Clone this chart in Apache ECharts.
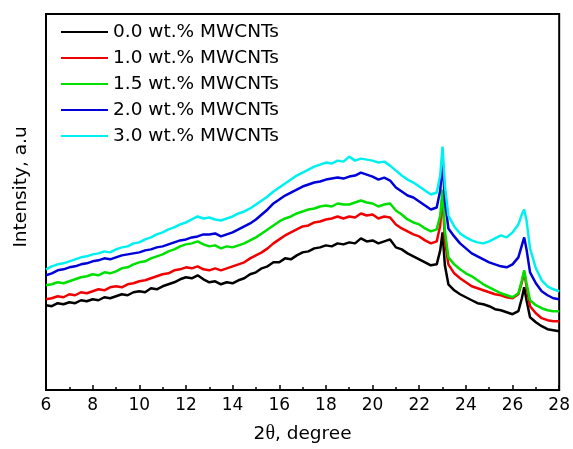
<!DOCTYPE html>
<html>
<head>
<meta charset="utf-8">
<style>
  html, body { margin: 0; padding: 0; background: #fff; }
  #chart { width: 573px; height: 449px; }
</style>
<script src="https://cdn.jsdelivr.net/npm/echarts@6/dist/echarts.min.js"></script>
</head>
<body>
<div id="chart"></div>
<script>
// XRD patterns of the composites, 2θ from 6° to 28°
const twoTheta = [
  6.00, 6.25, 6.50, 6.75, 7.00, 7.25, 7.50, 7.75, 8.00, 8.25, 8.50, 8.75,
  9.00, 9.25, 9.50, 9.75, 10.00, 10.25, 10.50, 10.75, 11.00, 11.25, 11.50, 11.75,
  12.00, 12.25, 12.50, 12.75, 13.00, 13.25, 13.50, 13.75, 14.00, 14.25, 14.50, 14.75,
  15.00, 15.25, 15.50, 15.75, 16.00, 16.25, 16.50, 16.75, 17.00, 17.25, 17.50, 17.75,
  18.00, 18.25, 18.50, 18.75, 19.00, 19.25, 19.50, 19.75, 20.00, 20.25, 20.50, 20.75,
  21.00, 21.25, 21.50, 21.75, 22.00, 22.25, 22.50, 22.75, 22.90, 23.00, 23.10, 23.25,
  23.50, 23.75, 24.00, 24.25, 24.50, 24.75, 25.00, 25.25, 25.50, 25.75, 26.00, 26.25,
  26.40, 26.50, 26.60, 26.75, 27.00, 27.25, 27.50, 27.75, 28.00
];

const mwcnt00 = [
  85, 84, 87, 86, 88, 87, 90, 89, 91, 90, 93, 92,
  94, 96, 95, 98, 99, 98, 102, 101, 104, 106, 108, 111,
  113, 112, 115, 111, 108, 109, 106, 108, 107, 110, 112, 116,
  118, 122, 124, 128, 128, 132, 131, 135, 138, 139, 142, 143,
  145, 144, 147, 146, 148, 147, 152, 149, 150, 147, 149, 151,
  143, 141, 137, 134, 131, 128, 125, 126, 140, 158, 125, 106,
  100, 96, 93, 90, 87, 86, 84, 81, 80, 78, 76, 79,
  92, 103, 90, 73, 68, 64, 61, 60, 59
];

const mwcnt10 = [
  91, 92, 94, 93, 96, 95, 98, 97, 99, 101, 100, 103,
  104, 103, 106, 107, 109, 110, 112, 114, 116, 117, 120, 121,
  123, 122, 124, 121, 120, 122, 120, 122, 124, 126, 128, 132,
  135, 138, 142, 147, 151, 155, 158, 161, 164, 165, 168, 169,
  171, 172, 174, 172, 174, 173, 177, 175, 176, 172, 174, 173,
  166, 162, 159, 156, 154, 150, 147, 149, 165, 196, 150, 126,
  117, 112, 108, 104, 102, 100, 98, 96, 95, 93, 92, 96,
  108, 118, 104, 84, 77, 72, 70, 69, 69
];

const mwcnt15 = [
  105, 106, 108, 107, 109, 111, 113, 114, 116, 115, 118, 117,
  119, 122, 123, 126, 128, 129, 132, 134, 136, 139, 141, 144,
  146, 147, 149, 146, 144, 145, 142, 144, 143, 145, 147, 150,
  153, 157, 161, 165, 169, 172, 174, 177, 179, 181, 182, 184,
  185, 184, 187, 186, 186, 188, 190, 188, 187, 184, 186, 187,
  180, 176, 171, 168, 166, 162, 159, 161, 175, 201, 160, 133,
  126, 121, 117, 114, 110, 106, 103, 100, 97, 95, 93, 97,
  110, 120, 107, 90, 85, 82, 80, 79, 79
];

const mwcnt20 = [
  115, 117, 120, 121, 123, 124, 126, 127, 129, 130, 132, 131,
  133, 135, 136, 137, 138, 140, 141, 143, 144, 146, 148, 150,
  151, 153, 154, 156, 156, 157, 154, 156, 158, 161, 164, 167,
  171, 176, 181, 187, 191, 195, 198, 201, 204, 206, 208, 209,
  211, 212, 213, 212, 214, 215, 218, 216, 214, 211, 213, 210,
  203, 199, 195, 193, 189, 185, 181, 183, 200, 229, 190, 162,
  154, 147, 142, 137, 134, 131, 128, 126, 124, 123, 126, 133,
  145, 153, 141, 118, 107, 99, 95, 92, 91
];

const mwcnt30 = [
  121, 124, 126, 127, 129, 131, 133, 134, 136, 137, 139, 138,
  141, 143, 144, 147, 148, 151, 153, 156, 158, 161, 163, 166,
  168, 171, 174, 172, 173, 171, 170, 172, 174, 177, 179, 182,
  186, 190, 194, 199, 203, 207, 211, 215, 218, 221, 224, 226,
  228, 227, 230, 229, 234, 230, 232, 231, 230, 228, 229, 225,
  220, 215, 211, 208, 204, 200, 196, 198, 215, 244, 205, 175,
  164, 157, 153, 150, 148, 147, 149, 152, 155, 153, 158, 166,
  176, 181, 170, 142, 122, 110, 104, 101, 99
];

const seriesNames = [
  '0.0 wt.% MWCNTs',
  '1.0 wt.% MWCNTs',
  '1.5 wt.% MWCNTs',
  '2.0 wt.% MWCNTs',
  '3.0 wt.% MWCNTs'
];
const seriesValues = [mwcnt00, mwcnt10, mwcnt15, mwcnt20, mwcnt30];
const seriesColors = ['#000000', '#f00000', '#00e000', '#0000d8', '#00f0f0'];

const xTicks = { min: 6, max: 28, interval: 2 };

const FONT = 'DejaVu Sans';

const chart = echarts.init(document.getElementById('chart'), null, { renderer: 'canvas' });

chart.setOption({
  animation: false,
  backgroundColor: '#ffffff',
  grid: {
    left: 46, right: 13, top: 14, bottom: 58,
    show: true, borderColor: '#000', borderWidth: 2, backgroundColor: 'transparent'
  },
  legend: {
    orient: 'vertical',
    left: 56, top: 16,
    icon: 'rect',
    itemWidth: 47, itemHeight: 2,
    itemGap: 4,
    textStyle: { fontFamily: FONT, fontSize: 18.5, color: '#000', lineHeight: 22 },
    data: seriesNames
  },
  xAxis: {
    type: 'value',
    min: xTicks.min, max: xTicks.max, interval: xTicks.interval,
    name: '{n|2}{t|θ}{n|, degree}',
    nameLocation: 'middle',
    nameGap: 34,
    nameTextStyle: {
      rich: {
        n: { fontFamily: FONT, fontSize: 18.5, color: '#000' },
        t: { fontFamily: 'Liberation Serif', fontSize: 20, color: '#000' }
      }
    },
    axisLine: { show: true, lineStyle: { color: '#000', width: 2 } },
    axisTick: { show: true, inside: true, length: 5, lineStyle: { color: '#000', width: 1.5 } },
    minorTick: { show: true, splitNumber: 2, length: 3, lineStyle: { color: '#000', width: 1.5 } },
    axisLabel: { fontFamily: FONT, fontSize: 17, color: '#000', margin: 7 },
    splitLine: { show: false },
    minorSplitLine: { show: false }
  },
  yAxis: {
    type: 'value',
    min: 0, max: 377,
    name: 'Intensity, a.u',
    nameLocation: 'middle',
    nameGap: 15,
    nameTextStyle: { fontFamily: FONT, fontSize: 18.5, color: '#000', padding: [0, 0, 0, 30] },
    axisLine: { show: true, lineStyle: { color: '#000', width: 2 } },
    axisTick: { show: false },
    axisLabel: { show: false },
    splitLine: { show: false }
  },
  series: seriesNames.map((name, i) => ({
    name: name,
    type: 'line',
    data: twoTheta.map((x, j) => [x, seriesValues[i][j]]),
    showSymbol: false,
    symbol: 'none',
    color: seriesColors[i],
    lineStyle: { color: seriesColors[i], width: 2.5 },
    z: 2 + i
  }))
});
</script>
</body>
</html>
